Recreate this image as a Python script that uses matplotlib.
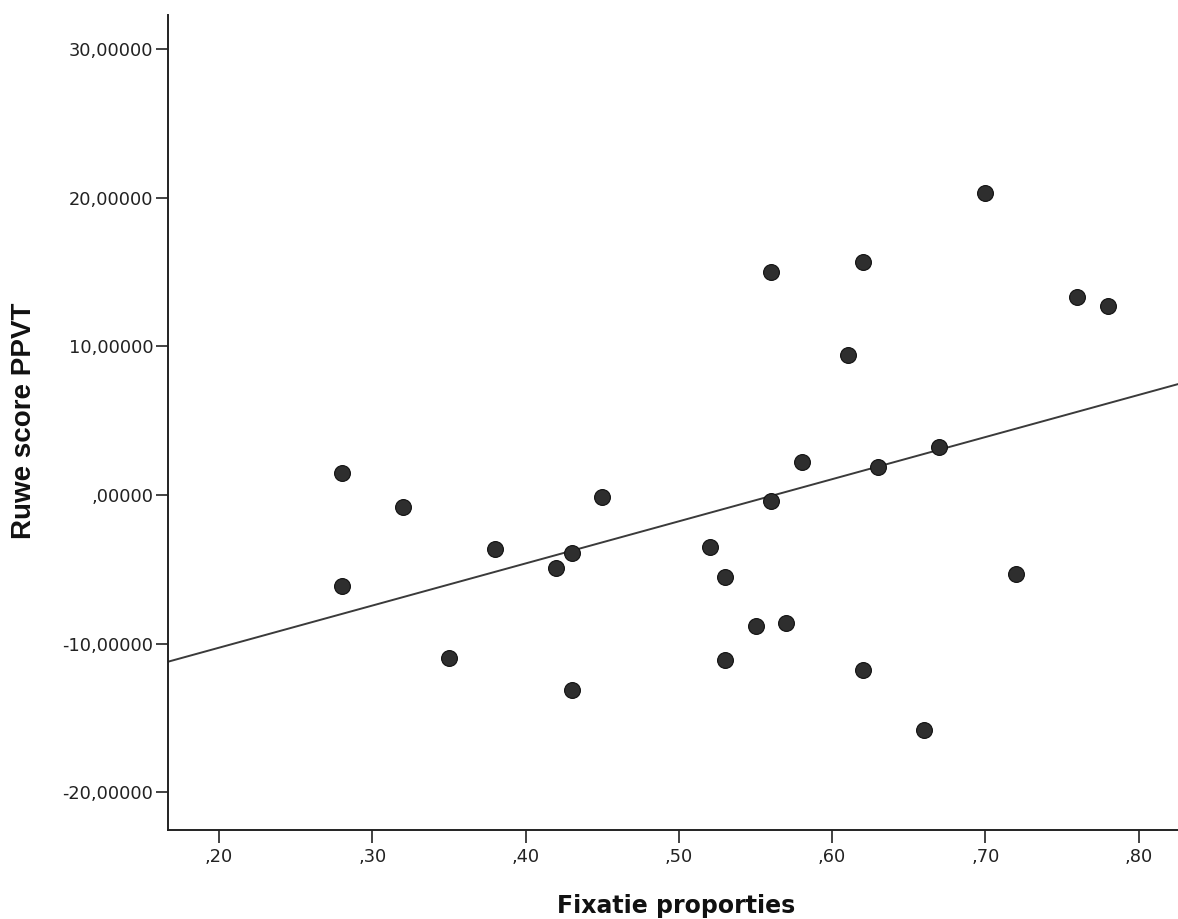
import numpy as np
import matplotlib
matplotlib.use("Agg")
import matplotlib.pyplot as plt

# Data
fixatie = [0.28, 0.28, 0.32, 0.35, 0.38, 0.42, 0.43, 0.43, 0.45, 0.52,
           0.53, 0.53, 0.55, 0.56, 0.56, 0.57, 0.58, 0.61, 0.62, 0.62,
           0.63, 0.66, 0.67, 0.70, 0.72, 0.76, 0.78]
ruwe_score = [1.5, -6.1, -0.8, -11.0, -3.6, -4.9, -3.9, -13.1, -0.1, -3.5,
              -5.5, -11.1, -8.8, 15.0, -0.4, -8.6, 2.2, 9.4, 15.7, -11.8,
              1.9, -15.8, 3.2, 20.3, -5.3, 13.3, 12.7]

x_ticks = [0.2, 0.3, 0.4, 0.5, 0.6, 0.7, 0.8]
x_ticklabels = [",20", ",30", ",40", ",50", ",60", ",70", ",80"]
y_ticks = [-20, -10, 0, 10, 20, 30]
y_ticklabels = ["-20,00000", "-10,00000", ",00000", "10,00000", "20,00000", "30,00000"]

fig = plt.figure(figsize=(11.78, 9.19), dpi=100)
ax = fig.add_axes([168/1178, 89/919, 1 - 168/1178, (830-15)/919])

xlim = (0.1667, 0.8256)
ylim = (-22.54, 32.3)

# Fit line (least squares on the data)
slope, intercept = np.polyfit(fixatie, ruwe_score, 1)
xs = np.array(xlim)
ax.plot(xs, intercept + slope * xs, color='#3a3a3a', lw=1.4, zorder=2)

ax.scatter(fixatie, ruwe_score, s=130, color='#2e2e2e', edgecolors='#111111',
           linewidths=0.8, zorder=3)

ax.set_xlim(*xlim)
ax.set_ylim(*ylim)
ax.set_xticks(x_ticks)
ax.set_xticklabels(x_ticklabels, family='DejaVu Sans', fontsize=12.8)
ax.set_yticks(y_ticks)
ax.set_yticklabels(y_ticklabels, family='DejaVu Sans', fontsize=12.8)

for s in ['top', 'right']:
    ax.spines[s].set_visible(False)
for s in ['left', 'bottom']:
    ax.spines[s].set_linewidth(1.4)
    ax.spines[s].set_color('#222222')

ax.tick_params(axis='both', direction='out', length=9, width=1.2, color='#222222',
               labelcolor='#222222')
ax.tick_params(axis='y', pad=1.5)
ax.tick_params(axis='x', pad=4)

fig.text(676/1178, 1 - 913/919, "Fixatie proporties", family='DejaVu Sans',
         fontsize=17, fontweight='bold', ha='center', va='baseline', color='#111111')
fig.text(24/1178, 1 - 421/919, "Ruwe score PPVT", family='Liberation Sans',
         fontsize=20, fontweight='bold', ha='center', va='center', rotation=90,
         color='#111111')

fig.savefig("out.png", dpi=100, facecolor='white')
